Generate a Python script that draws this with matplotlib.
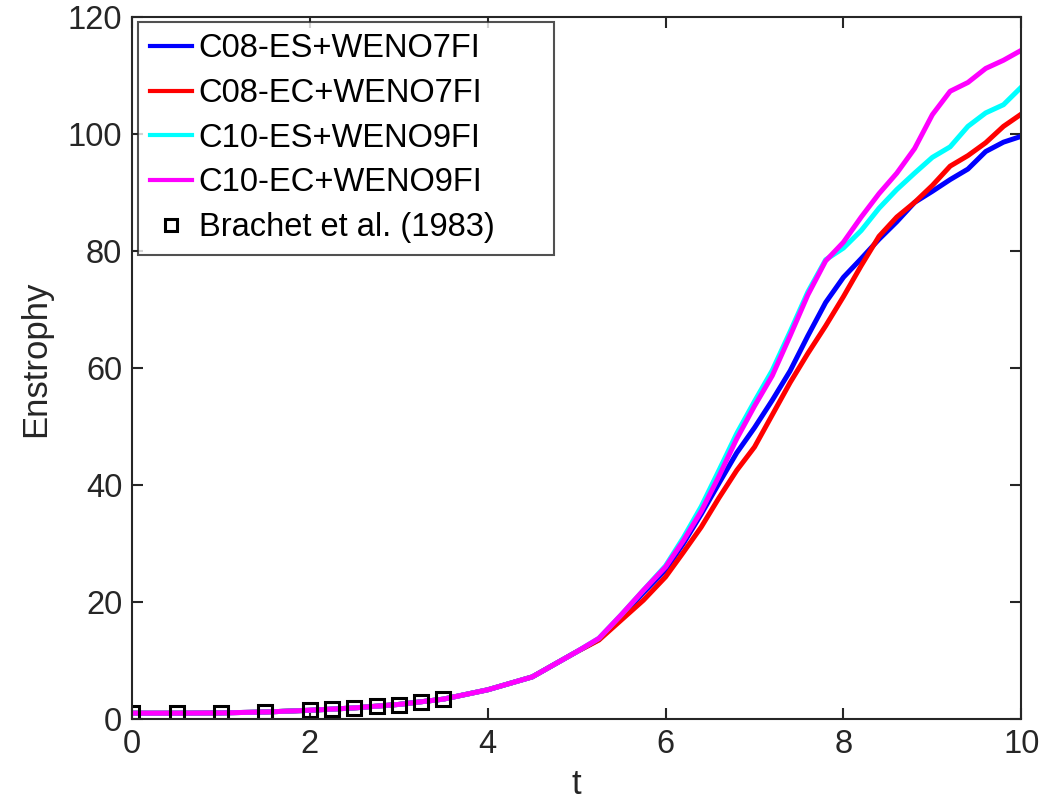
import matplotlib
matplotlib.use("Agg")
import matplotlib.pyplot as plt
import numpy as np

plt.rcParams['font.family'] = ['Liberation Sans', 'DejaVu Sans']

# time grid
t = [0, 0.5, 1, 1.5, 2, 2.5, 3, 3.5, 4, 4.5, 5, 5.25, 5.5, 5.75, 6,
     6.2, 6.4, 6.6, 6.8, 7, 7.2, 7.4, 7.6, 7.8, 8, 8.2, 8.4, 8.6, 8.8,
     9, 9.2, 9.4, 9.6, 9.8, 10]

early = [1.0, 1.0, 1.05, 1.2, 1.5, 1.9, 2.5, 3.4, 5.0, 7.2, 11.5]

c08_es = early + [13.6, 17.4, 21.6, 25.5,
                  30.0, 35.0, 40.3, 45.5, 49.8, 54.5, 59.5, 65.5, 71.2, 75.5,
                  78.7, 82.0, 85.0, 88.3, 90.2, 92.2, 94.0, 97.0, 98.6, 99.6]
c08_ec = early + [13.5, 16.9, 20.3, 24.3,
                  28.5, 32.8, 37.8, 42.5, 46.5, 52.0, 57.5, 62.5, 67.2, 72.2,
                  77.5, 82.5, 85.8, 88.3, 91.2, 94.5, 96.3, 98.5, 101.3, 103.4]
c10_es = early + [13.8, 17.8, 22.0, 26.2,
                  31.0, 36.3, 42.5, 48.8, 54.3, 59.6, 66.2, 73.0, 78.5, 80.5,
                  83.5, 87.3, 90.5, 93.3, 96.0, 97.8, 101.3, 103.6, 105.0, 108.0]
c10_ec = early + [13.8, 17.8, 22.0, 26.0,
                  30.5, 35.5, 41.5, 47.9, 53.5, 58.7, 65.5, 72.5, 78.3, 81.5,
                  85.8, 89.8, 93.3, 97.5, 103.3, 107.3, 108.8, 111.2, 112.6, 114.3]

# Brachet et al. (1983)
t_ref = [0, 0.5, 1, 1.5, 2, 2.25, 2.5, 2.75, 3, 3.25, 3.5]
e_ref = [1.0, 1.0, 1.0, 1.25, 1.5, 1.7, 1.9, 2.2, 2.45, 2.85, 3.4]

fig = plt.figure(figsize=(10.4, 8.07), dpi=100)
ax = fig.add_axes([0.127, 0.109, 0.855, 0.870])

lw = 3.6
ax.plot(t, c08_es, color='#0000ff', lw=lw, label='C08-ES+WENO7FI')
ax.plot(t, c08_ec, color='#ff0000', lw=lw, label='C08-EC+WENO7FI')
ax.plot(t, c10_es, color='#00ffff', lw=lw, label='C10-ES+WENO9FI')
ax.plot(t, c10_ec, color='#ff00ff', lw=lw, label='C10-EC+WENO9FI')
ax.plot(t_ref, e_ref, 's', color='k', mfc='none', ms=10, mew=2.2,
        label='Brachet et al. (1983)')

ax.set_xlim(0, 10)
ax.set_ylim(0, 120)
ax.set_xticks([0, 2, 4, 6, 8, 10])
ax.set_yticks([0, 20, 40, 60, 80, 100, 120])

gray = '#262626'
for s in ax.spines.values():
    s.set_color(gray)
    s.set_linewidth(1.5)
ax.tick_params(direction='in', length=8, width=1.5, colors=gray,
               labelsize=23.5, top=True, right=True, pad=7)
ax.set_xlabel('t', fontsize=25, color=gray, labelpad=6)
ax.set_ylabel('Enstrophy', fontsize=25, color=gray)
ax.yaxis.set_label_coords(-0.09, 0.513)

leg = ax.legend(loc='upper left', bbox_to_anchor=(0.0068, 0.0, 0.468, 0.993),
                mode='expand', fontsize=23.5, frameon=True, fancybox=False,
                edgecolor=gray, borderaxespad=0, handlelength=1.3,
                handletextpad=0.2, labelspacing=0.42, borderpad=0.35)
leg.get_frame().set_linewidth(1.5)
for ln in leg.get_lines()[:4]:
    ln.set_linewidth(3)
leg.get_lines()[4].set_markersize(8)

plt.savefig("out.png", dpi=100)
plt.close()
